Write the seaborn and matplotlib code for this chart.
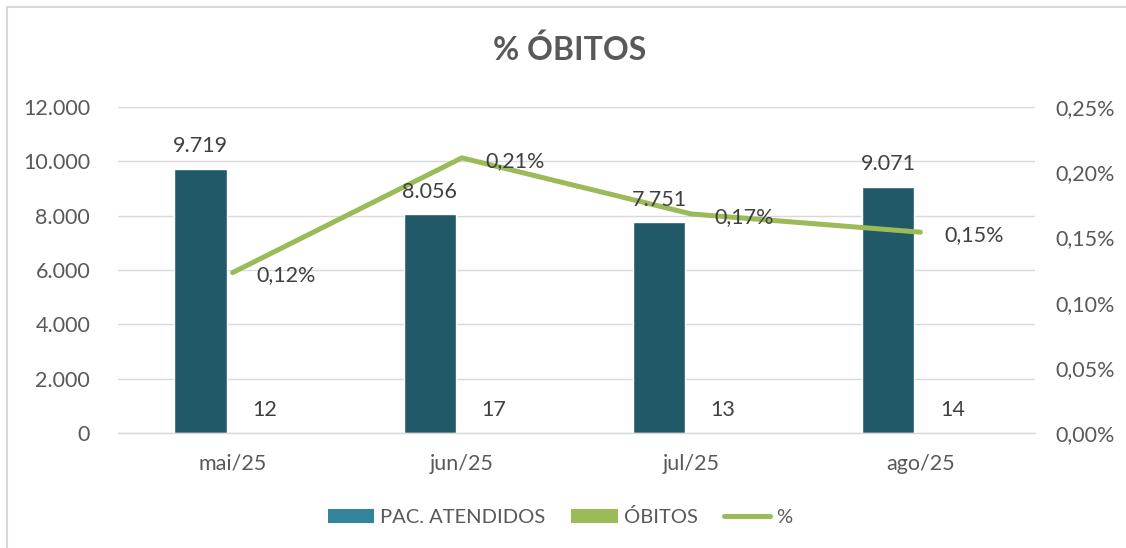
import numpy as np
import pandas as pd
import matplotlib
matplotlib.use("Agg")
import matplotlib.pyplot as plt
from matplotlib.patches import Patch
from matplotlib.lines import Line2D
from matplotlib.ticker import FuncFormatter, MultipleLocator
import seaborn as sns

# ---- data ----
months = ["mai/25", "jun/25", "jul/25", "ago/25"]
pac_atendidos = [9719, 8056, 7751, 9071]
obitos = [12, 17, 13, 14]
pct_obitos = [0.00123, 0.00211, 0.00168, 0.00154]
series_names = ["PAC. ATENDIDOS", "ÓBITOS", "%"]
title = "% ÓBITOS"

# ---- style ----
sns.set_style("white")
plt.rcParams["font.family"] = ["Lato", "DejaVu Sans"]
FS = 15.5
TXT = "#595959"
LBL = "#404040"
GRID = "#D9D9D9"
BAR_DARK = "#215968"
LEG_BLUE = "#31849B"
GREEN = "#9BBB59"

W, H = 1126, 548
fig = plt.figure(figsize=(W / 100, H / 100), dpi=100)
fig.patch.set_facecolor("white")
# chart-area frame (left and top edges visible)
fig.add_artist(Line2D([7 / W, 7 / W], [0, 1 - 7 / H], transform=fig.transFigure,
                      color=GRID, lw=1.5))
fig.add_artist(Line2D([7 / W, 1], [1 - 7 / H, 1 - 7 / H], transform=fig.transFigure,
                      color=GRID, lw=1.5))

ax = fig.add_axes([118 / W, 1 - 433 / H, (1035 - 118) / W, (433 - 107) / H])

df = pd.DataFrame({
    "mes": months * 2,
    "valor": pac_atendidos + obitos,
    "serie": [series_names[0]] * len(months) + [series_names[1]] * len(months),
})
sns.barplot(data=df, x="mes", y="valor", hue="serie",
            palette=[BAR_DARK, GREEN], width=0.56, gap=0.187,
            saturation=1, errorbar=None, legend=False, ax=ax)

ax.set_ylim(0, 12000)
ax.yaxis.set_major_locator(MultipleLocator(2000))
ax.yaxis.set_major_formatter(FuncFormatter(lambda v, p: f"{int(v):,}".replace(",", ".")))
ax.set_xlim(-0.5, len(months) - 0.5)
ax.set_xlabel("")
ax.set_ylabel("")
ax.set_axisbelow(True)
ax.yaxis.grid(True, color=GRID, lw=1.0)
ax.xaxis.grid(False)
for s in ["top", "left", "right"]:
    ax.spines[s].set_visible(False)
ax.spines["bottom"].set_color(GRID)
ax.spines["bottom"].set_linewidth(1.0)
ax.tick_params(axis="y", length=0, pad=20, labelsize=FS, labelcolor=TXT)
ax.tick_params(axis="x", which="major", length=0, pad=15, labelsize=FS, labelcolor=TXT)
ax.set_xticks(list(np.arange(len(months)) - 0.5) + [len(months) - 0.5], minor=True)
ax.tick_params(axis="x", which="minor", length=6, width=1.0, color=GRID, direction="out")

# ---- secondary axis: percentage line ----
ax2 = ax.twinx()
sns.lineplot(x=np.arange(len(months)), y=pct_obitos, ax=ax2, color=GREEN,
             lw=3.6, solid_capstyle="round", legend=False)
ax2.set_ylim(0, 0.0025)
ax2.set_xlim(-0.5, len(months) - 0.5)
ax2.yaxis.set_major_locator(MultipleLocator(0.0005))
ax2.yaxis.set_major_formatter(FuncFormatter(lambda v, p: f"{v * 100:.2f}%".replace(".", ",")))
ax2.tick_params(axis="y", length=0, pad=15, labelsize=FS, labelcolor=TXT)
ax2.set_ylabel("")
for s in ax2.spines.values():
    s.set_visible(False)
ax2.grid(False)

# percentage labels
for i, v in enumerate(pct_obitos):
    ax2.annotate(f"{v * 100:.2f}%".replace(".", ","), (i, v), xytext=(17, -2),
                 textcoords="offset points", ha="left", va="center",
                 fontsize=FS, color=LBL)

# bar value labels (drawn on top axes so they sit above the line)
for cont in ax.containers:
    for p in cont.patches:
        h = p.get_height()
        ax2.annotate(f"{int(round(h)):,}".replace(",", "."),
                     (p.get_x() + p.get_width() / 2, h), xycoords=ax.transData,
                     xytext=(0, 9), textcoords="offset points",
                     ha="center", va="bottom", fontsize=FS, color=LBL)

# ---- title ----
fig.text(570 / W, 1 - 50 / H, title, ha="center", va="center",
         fontsize=23, fontweight="bold", color=TXT)

# ---- legend ----
handles = [Patch(facecolor=LEG_BLUE, edgecolor="none"),
           Patch(facecolor=GREEN, edgecolor="none"),
           Line2D([0], [0], color=GREEN, lw=3.6, solid_capstyle="round")]
fig.legend(handles, series_names, loc="center", bbox_to_anchor=(560 / W, 1 - 517 / H),
           ncol=3, frameon=False, fontsize=14.5, labelcolor=TXT,
           handlelength=2.3, handleheight=0.65, handletextpad=0.3, columnspacing=1.3)

fig.savefig("out.png", dpi=100, facecolor="white")
